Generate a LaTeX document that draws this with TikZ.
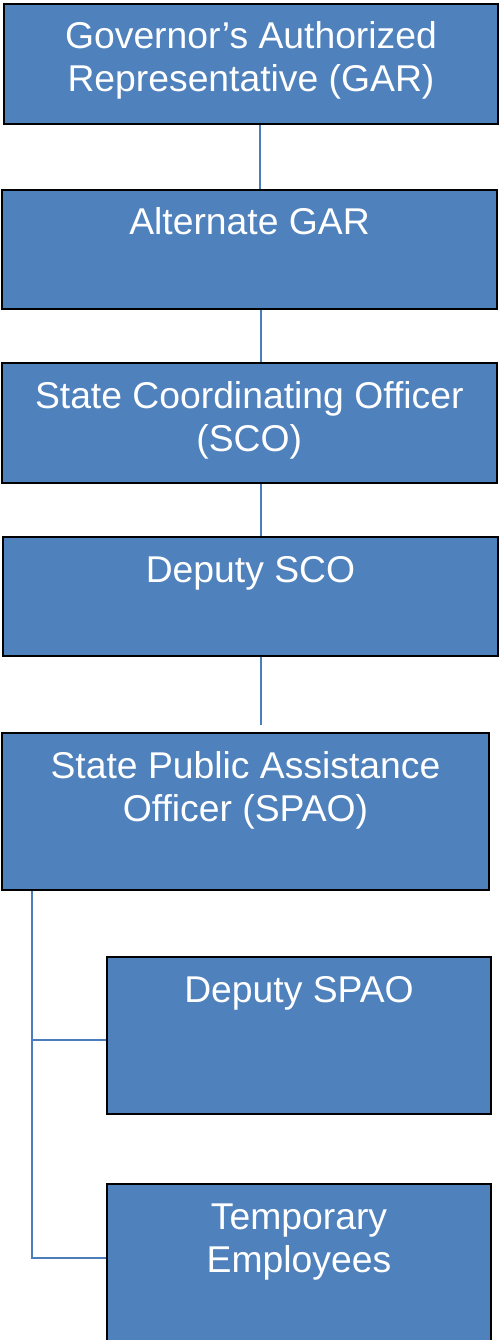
\documentclass[tikz,border=0pt]{standalone}
\usepackage{fontspec}
\newfontfamily\labelfont{Liberation Sans}
\definecolor{boxblue}{HTML}{4F81BD}
\definecolor{linkblue}{HTML}{4A7EBB}
% box content: fixed-size minipage, text hung from the top edge
\newcommand{\boxlines}[3]{%
  \begin{minipage}[t][#2][t]{#1}\centering\rule{0pt}{45pt}#3\end{minipage}}
\begin{document}
\begin{tikzpicture}[x=1pt,y=-1pt,
  orgbox/.style={draw=black, line width=2pt, fill=boxblue, inner sep=0pt,
    anchor=north west, text=white,
    font=\labelfont\fontsize{37.3}{43}\selectfont},
  link/.style={draw=linkblue, line width=2.2pt}]
\useasboundingbox (0,0) rectangle (498,1340);

\node[orgbox] (g1) at (3,3)     {\boxlines{494pt}{120pt}{Governor’s Authorized\\Representative (GAR)}};
\node[orgbox] (g2) at (1,189)   {\boxlines{495pt}{119pt}{Alternate GAR}};
\node[orgbox] (g3) at (0.5,362) {\boxlines{495.5pt}{120pt}{State Coordinating Officer\\(SCO)}};
\node[orgbox] (g4) at (2,536)   {\boxlines{495pt}{119pt}{Deputy SCO}};
\node[orgbox] (g5) at (1,732)   {\boxlines{487pt}{157pt}{State Public Assistance\\Officer (SPAO)}};
\node[orgbox] (g6) at (106,956) {\boxlines{384pt}{157pt}{Deputy SPAO}};
\node[orgbox] (g7) at (106,1183){\boxlines{384pt}{157pt}{Temporary\\Employees}};

% vertical chain of command
\draw[link] ([xshift=9pt]g1.south) -- ([xshift=9pt]g1.south |- g2.north);
\draw[link] ([xshift=11.5pt]g2.south) -- ([xshift=11.5pt]g2.south |- g3.north);
\draw[link] ([xshift=11.75pt]g3.south) -- ([xshift=11.75pt]g3.south |- g4.north);
\draw[link] ([xshift=10.5pt]g4.south) -- ([xshift=10.5pt,yshift=7pt]g4.south |- g5.north);

% side bus from the SPAO box to its staff
\coordinate (bus) at ([xshift=31pt]g5.south west);
\draw[link] (bus) |- ([yshift=-4.5pt]g6.west);
\draw[link] (bus) |- ([yshift=4.5pt]g7.west);
\end{tikzpicture}
\end{document}
